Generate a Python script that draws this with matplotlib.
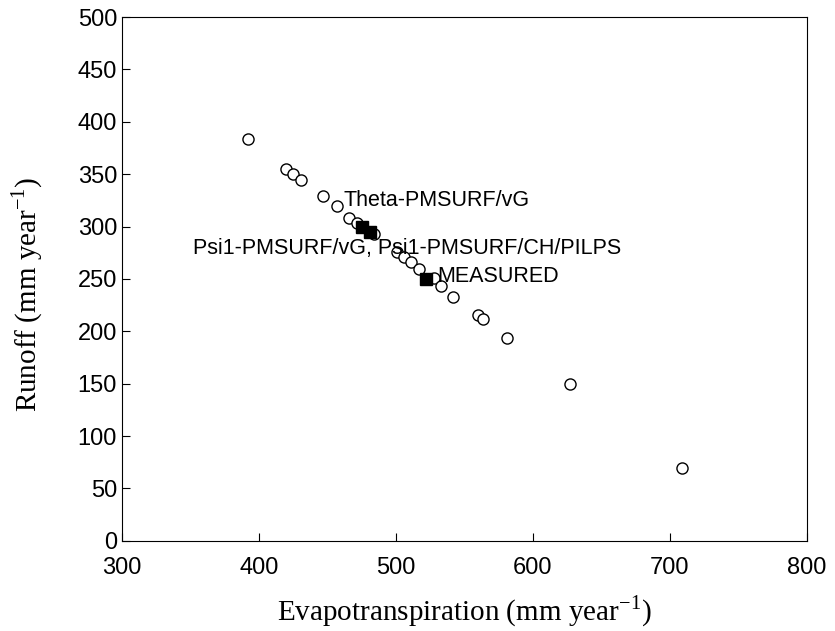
import matplotlib.pyplot as plt
import numpy as np

# open circles: other model runs
et_runs = [392, 420, 425, 431, 447, 457, 466, 472, 484, 501, 506, 511, 517, 528, 533, 542, 560, 564, 581, 627, 709]
ro_runs = [384, 355, 350, 344, 329, 320, 308, 303, 293, 276, 271, 266, 259, 251, 243, 233, 216, 212, 194, 150, 69]

# filled squares: named runs and measurement
et_named = [475, 481, 522]
ro_named = [300, 295, 250]

labels = ["Theta-PMSURF/vG", "Psi1-PMSURF/vG, Psi1-PMSURF/CH/PILPS", "MEASURED"]
label_pos = [(462, 325), (352, 279), (530, 252)]

fig = plt.figure(figsize=(8.35, 6.31), dpi=100)
ax = fig.add_axes([0.146, 0.143, 0.820, 0.830])

ax.plot(et_runs, ro_runs, "o", mfc="white", mec="black", ms=8, mew=1.0, ls="none")
ax.plot(et_named, ro_named, "s", color="black", ms=8, ls="none")

for txt, (x, y) in zip(labels, label_pos):
    ax.text(x, y, txt, fontsize=15.5, family="Liberation Sans", va="center", ha="left")

ax.set_xlim(300, 800)
ax.set_ylim(0, 500)
ax.set_xticks(np.arange(300, 801, 100))
ax.set_yticks(np.arange(0, 501, 50))
ax.tick_params(direction="in", length=6, labelsize=17, top=False, right=False)
for lab in ax.get_xticklabels() + ax.get_yticklabels():
    lab.set_family("Liberation Sans")
ax.tick_params(axis="x", pad=12)

ax.set_xlabel("Evapotranspiration (mm year$^{\\mathregular{-1}}$)", family="Liberation Serif", fontsize=21)
ax.set_ylabel("Runoff (mm year$^{\\mathregular{-1}}$)", family="Liberation Serif", fontsize=21)
ax.xaxis.set_label_coords(0.5, -0.1)
ax.yaxis.set_label_coords(-0.112, 0.47)

plt.savefig("out.png")
